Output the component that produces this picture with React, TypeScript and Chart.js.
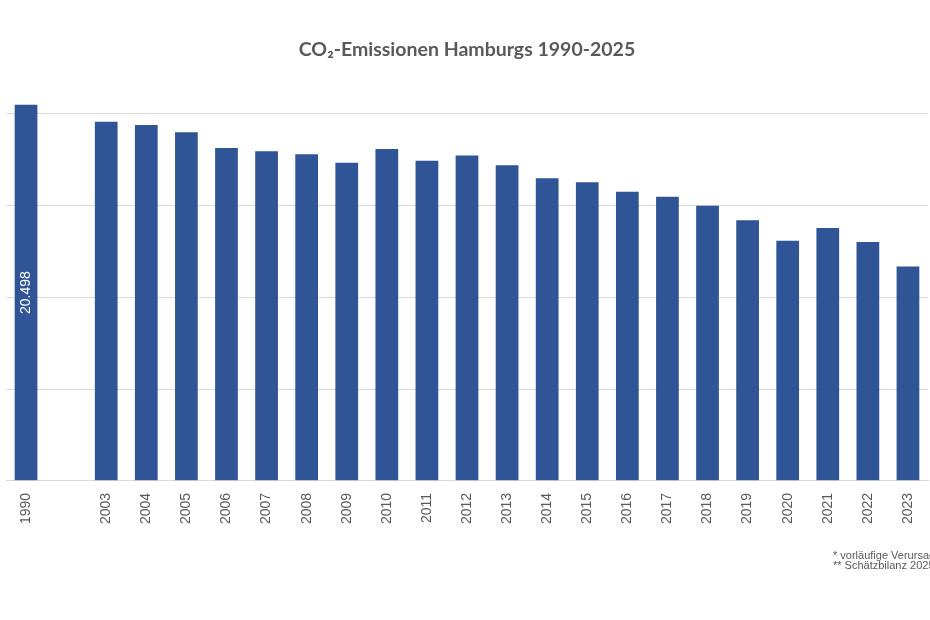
import { useEffect, useRef } from "react";
import { Chart, registerables } from "chart.js";

Chart.register(...registerables);

// CO2 emissions of Hamburg, thousand tonnes per year
const years = [
  "1990", "",
  "2003", "2004", "2005", "2006", "2007", "2008", "2009", "2010", "2011",
  "2012", "2013", "2014", "2015", "2016", "2017", "2018", "2019", "2020",
  "2021", "2022", "2023",
];
const emissions: (number | null)[] = [
  20498, null,
  19570, 19400, 19000, 18140, 17960, 17800, 17340, 18090, 17450,
  17730, 17200, 16490, 16280, 15760, 15480, 14990, 14200, 13090,
  13780, 13020, 11680,
];
const labelledYears = ["1990"];
const gridValues = [0, 5000, 10000, 15000, 20000];
const chartTitle = "CO₂-Emissionen Hamburgs 1990-2025";
const footnotes = ["* vorläufige Verursacherbilanz 2024", "** Schätzbilanz 2025"];

const BAR_COLOR = "#2F5597";
const TEXT_COLOR = "#595959";
const GRID_COLOR = "#d9d9d9";
const FONT = "'Liberation Sans', Arial, sans-serif";

const formatDe = (v: number) => String(v).replace(/\B(?=(\d{3})+(?!\d))/g, ".");

// writes the value vertically inside the selected bars
const valueLabelPlugin = {
  id: "valueLabel",
  afterDatasetsDraw(chart: any) {
    const meta = chart.getDatasetMeta(0);
    const ctx = chart.ctx;
    meta.data.forEach((bar: any, i: number) => {
      const v = emissions[i];
      if (v == null || !labelledYears.includes(years[i])) return;
      const { x, y, base } = bar.getProps(["x", "y", "base"], true);
      ctx.save();
      ctx.translate(x, (y + base) / 2);
      ctx.rotate(-Math.PI / 2);
      ctx.fillStyle = "#ffffff";
      ctx.font = `14px ${FONT}`;
      ctx.textAlign = "center";
      ctx.textBaseline = "middle";
      ctx.fillText(formatDe(v), 0, 0);
      ctx.restore();
    });
  },
};

export default function App() {
  const canvasRef = useRef<HTMLCanvasElement | null>(null);

  useEffect(() => {
    if (!canvasRef.current) return;
    const chart = new Chart(canvasRef.current, {
      type: "bar",
      data: {
        labels: years,
        datasets: [
          {
            data: emissions,
            backgroundColor: BAR_COLOR,
            borderWidth: 0,
            categoryPercentage: 1,
            barPercentage: 0.567,
          },
        ],
      },
      options: {
        animation: false,
        responsive: false,
        maintainAspectRatio: false,
        layout: { padding: { left: 6, right: 8, top: 0, bottom: 92 } },
        plugins: {
          legend: { display: false },
          tooltip: { enabled: false },
          title: {
            display: true,
            text: chartTitle,
            color: TEXT_COLOR,
            font: { family: "Lato, 'Open Sans', sans-serif", size: 19.5, weight: "bold" },
            padding: { top: 38, bottom: 25 },
          },
        },
        scales: {
          x: {
            grid: { display: false },
            border: { color: GRID_COLOR },
            ticks: {
              autoSkip: false,
              minRotation: 90,
              maxRotation: 90,
              padding: 4,
              color: TEXT_COLOR,
              font: { family: FONT, size: 14 },
            },
          },
          y: {
            min: 0,
            max: 21500,
            afterBuildTicks: (scale: any) => {
              scale.ticks = gridValues.map((value) => ({ value }));
            },
            ticks: { display: false },
            border: { display: false },
            grid: { color: GRID_COLOR, drawTicks: false, tickLength: 0 },
          },
        },
      },
      plugins: [valueLabelPlugin],
    });
    return () => chart.destroy();
  }, []);

  return (
    <div
      style={{
        position: "fixed",
        left: 0,
        top: 0,
        width: 930,
        height: 620,
        overflow: "hidden",
        background: "#ffffff",
      }}
    >
      <canvas ref={canvasRef} width={936} height={620} style={{ display: "block" }} />
      <div
        style={{
          position: "absolute",
          left: 833,
          top: 550,
          fontFamily: FONT,
          fontSize: 11,
          lineHeight: "10px",
          color: TEXT_COLOR,
          whiteSpace: "nowrap",
        }}
      >
        {footnotes.map((t) => (
          <div key={t}>{t}</div>
        ))}
      </div>
    </div>
  );
}
